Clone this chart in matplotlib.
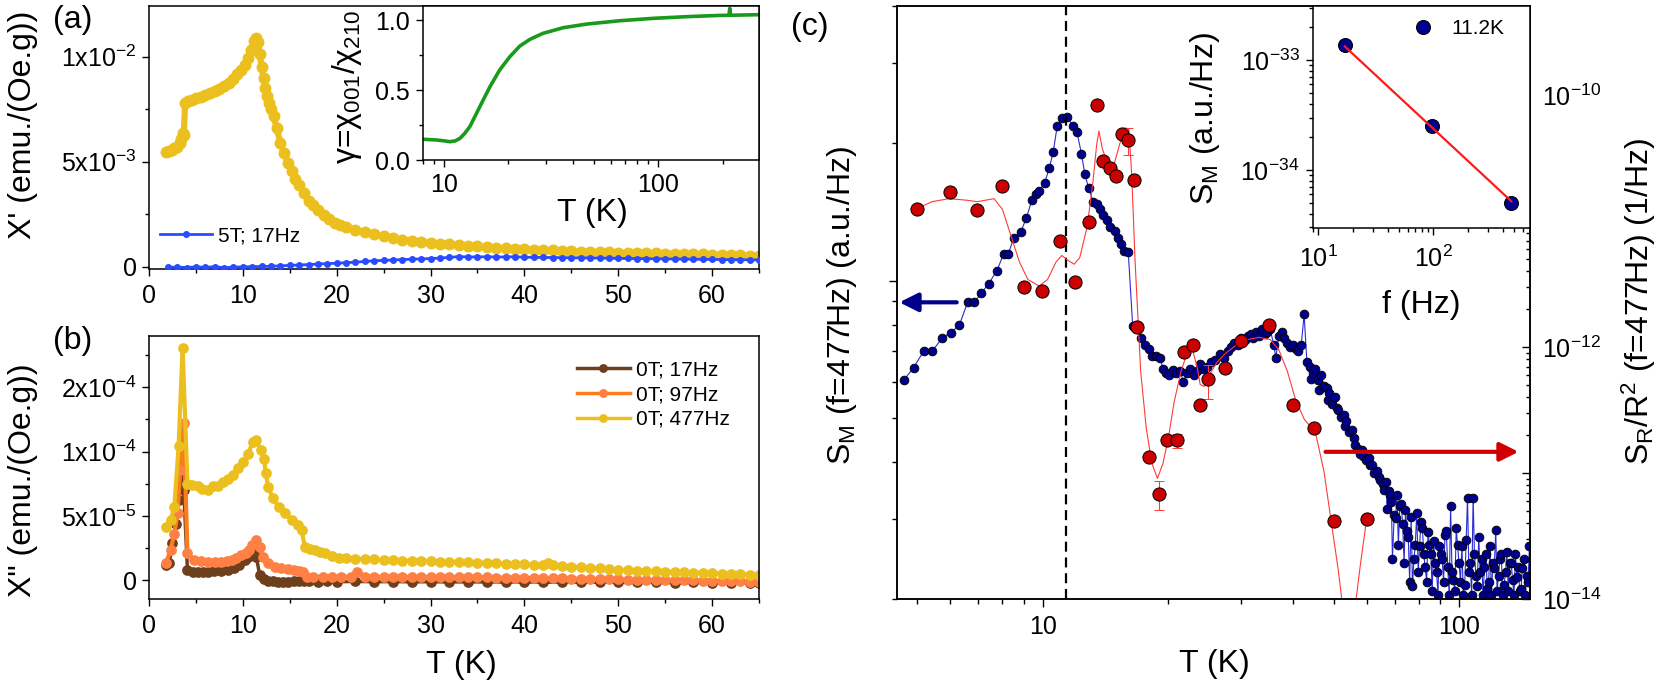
import numpy as np
import matplotlib
matplotlib.use("Agg")
import matplotlib.pyplot as plt
from matplotlib.ticker import (MultipleLocator, FixedLocator, FixedFormatter,
                               LogLocator, NullFormatter, FuncFormatter)

plt.rcParams['font.family'] = ['Liberation Sans', 'DejaVu Sans']
plt.rcParams['mathtext.fontset'] = 'custom'
plt.rcParams['mathtext.rm'] = 'Liberation Sans'
plt.rcParams['mathtext.it'] = 'Liberation Sans:italic'
plt.rcParams['mathtext.bf'] = 'Liberation Sans:bold'
plt.rcParams['axes.linewidth'] = 1.1

# ---------------- data: panel (a)  X' vs T ----------------
a_T_477 = [1.8, 2.1, 2.4, 2.7, 3.0, 3.3, 3.45, 3.6, 3.7, 3.85, 4.2, 4.6, 5.0, 5.5, 6.0,
           6.5, 7.0, 7.5, 8.0, 8.5, 9.0, 9.4, 9.8, 10.2, 10.6, 10.9, 11.2, 11.4, 11.6,
           11.8, 12.0, 12.2, 12.4, 12.6, 12.8, 13.0, 13.3, 13.6, 14.0, 14.4, 14.8, 15.2,
           15.6, 16.0, 16.5, 17.0, 17.5, 18.0, 18.6, 19.2, 19.8, 20.4, 21, 22, 23, 24,
           25, 26, 27, 28, 29, 30, 31, 32, 33, 34, 35, 36, 37, 38, 39, 40, 41, 42, 43,
           44, 45, 46, 47, 48, 49, 50, 51, 52, 53, 54, 55, 56, 57, 58, 59, 60, 61, 62,
           63, 64, 65]
a_chi_477 = [5.44e-3, 5.50e-3, 5.56e-3, 5.63e-3, 5.72e-3, 5.90e-3, 6.10e-3, 6.35e-3,
             6.25e-3, 7.80e-3, 7.88e-3, 7.95e-3, 8.02e-3, 8.08e-3, 8.15e-3, 8.25e-3,
             8.35e-3, 8.47e-3, 8.60e-3, 8.75e-3, 8.95e-3, 9.15e-3, 9.35e-3, 9.60e-3,
             9.95e-3, 1.03e-2, 1.075e-2, 1.089e-2, 1.07e-2, 1.01e-2, 9.5e-3, 9.0e-3,
             8.5e-3, 8.1e-3, 7.8e-3, 7.5e-3, 7.15e-3, 6.6e-3, 5.9e-3, 5.4e-3, 4.95e-3,
             4.55e-3, 4.2e-3, 3.9e-3, 3.5e-3, 3.15e-3, 2.95e-3, 2.7e-3, 2.45e-3, 2.27e-3,
             2.1e-3, 1.97e-3, 1.88e-3, 1.76e-3, 1.65e-3, 1.55e-3, 1.46e-3, 1.38e-3,
             1.30e-3, 1.24e-3, 1.19e-3, 1.15e-3, 1.11e-3, 1.07e-3, 1.03e-3, 1.0e-3,
             9.7e-4, 9.4e-4, 9.1e-4, 8.8e-4, 8.6e-4, 8.4e-4, 8.2e-4, 8.0e-4, 7.8e-4,
             7.6e-4, 7.5e-4, 7.3e-4, 7.2e-4, 7.0e-4, 6.9e-4, 6.8e-4, 6.7e-4, 6.6e-4,
             6.5e-4, 6.4e-4, 6.3e-4, 6.2e-4, 6.1e-4, 6.0e-4, 5.9e-4, 5.8e-4, 5.7e-4,
             5.6e-4, 5.5e-4, 5.4e-4, 5.3e-4]

a_T_5T = [2, 3, 4, 5, 6, 7, 8, 9, 10, 11, 12, 13, 14, 15, 16, 17, 18, 19, 20, 21, 22,
          23, 24, 25, 26, 27, 28, 29, 30, 31, 32, 33, 34, 35, 36, 37, 38, 39, 40, 41,
          42, 43, 44, 45, 46, 47, 48, 49, 50, 51, 52, 53, 54, 55, 56, 57, 58, 59, 60,
          61, 62, 63, 64, 65]
a_chi_5T = [-2e-5, -1e-5, -3e-5, 0, -2e-5, 1e-5, -4e-5, -1e-5, 0, 1e-5, 2e-5, 3e-5,
            5e-5, 7e-5, 9e-5, 1.1e-4, 1.35e-4, 1.55e-4, 1.75e-4, 2.0e-4, 2.25e-4,
            2.6e-4, 2.9e-4, 3.1e-4, 3.3e-4, 3.5e-4, 3.65e-4, 3.8e-4, 3.95e-4, 4.2e-4,
            4.5e-4, 4.9e-4, 4.7e-4, 4.75e-4, 4.8e-4, 4.7e-4, 4.75e-4, 4.8e-4, 4.6e-4,
            4.55e-4, 4.5e-4, 4.45e-4, 4.4e-4, 4.35e-4, 4.3e-4, 4.25e-4, 4.2e-4,
            4.15e-4, 4.05e-4, 4.0e-4, 3.95e-4, 3.9e-4, 3.85e-4, 3.8e-4, 3.75e-4,
            3.7e-4, 3.65e-4, 3.6e-4, 3.55e-4, 3.5e-4, 3.45e-4, 3.4e-4, 3.35e-4, 3.3e-4]

# inset (a): anisotropy ratio
gam_T = [8.0, 9.25, 10.0, 10.66, 11.3, 11.88, 12.5, 13.2, 14.7, 16.4, 18.2, 20.3, 22.6,
         25.2, 29.0, 36.0, 46.3, 66.3, 94.8, 135.7, 194, 214, 216, 218, 250, 296]
gam_val = [0.148, 0.143, 0.137, 0.131, 0.137, 0.155, 0.19, 0.238, 0.381, 0.524, 0.643,
           0.738, 0.814, 0.862, 0.905, 0.945, 0.971, 0.995, 1.012, 1.024, 1.033, 1.034,
           1.083, 1.034, 1.036, 1.038]

# ---------------- data: panel (b)  X'' vs T ----------------
b_T_17 = [1.8, 2.14, 2.5, 2.86, 3.15, 3.4, 3.7, 4.1, 4.7, 5.2, 5.8, 6.26, 6.9, 7.69, 8.4,
          9.11, 9.6, 10.18, 10.6, 11.08, 11.44, 11.79, 12.2, 12.69, 13.2, 13.76, 14.3,
          14.83, 15.5, 16.0, 16.5, 17, 18, 19, 20, 22, 24, 26, 28, 30, 32, 34, 36, 38,
          40, 42, 44, 46, 48, 50, 52, 54, 56, 58, 60, 62, 64, 65]
b_chi_17 = [1.2e-5, 1.3e-5, 2.85e-5, 4.4e-5, 6.2e-5, 8.55e-5, 7.0e-5, 7.8e-6, 6.5e-6,
            6.5e-6, 6.5e-6, 6.5e-6, 6.8e-6, 7.3e-6, 7.8e-6, 9.1e-6, 1.2e-5, 1.56e-5,
            1.8e-5, 2.07e-5, 1.81e-5, 3.9e-6, 1.0e-6, -5e-7, -1.0e-6, -1.3e-6, -1.3e-6,
            -1.3e-6, -1.0e-6, -5e-7, -1.0e-6, -1.0e-6, -1.2e-6, -1.0e-6, -1.3e-6,
            -1.1e-6, -1.3e-6, -1.2e-6, -1.4e-6, -1.3e-6, -1.5e-6, -1.4e-6, -1.5e-6,
            -1.6e-6, -1.5e-6, -1.7e-6, -1.6e-6, -1.8e-6, -1.7e-6, -1.8e-6, -1.9e-6,
            -1.8e-6, -2.0e-6, -1.9e-6, -2.0e-6, -2.1e-6, -2.0e-6, -2.1e-6]

b_T_97 = [1.8, 2.3, 2.7, 3.04, 3.33, 3.69, 4.1, 4.8, 5.5, 6.3, 7.0, 7.7, 8.3, 8.8, 9.3,
          9.8, 10.3, 10.7, 11.0, 11.36, 11.8, 12.15, 12.7, 13.4, 14.1, 14.8, 15.5, 16.0,
          16.44, 16.8, 17.5, 18.5, 19.5, 20.5, 21.5, 22.2, 23, 24, 25, 26, 27, 28, 29,
          30, 31, 32, 33, 34, 35, 36, 37, 38, 39, 40, 41, 42, 43, 44, 45, 46, 47, 48,
          49, 50, 51, 52, 53, 54, 55, 56, 57, 58, 59, 60, 61, 62, 63, 64, 65]
b_chi_97 = [1.3e-5, 2.33e-5, 3.6e-5, 5.2e-5, 8.55e-5, 1.22e-4, 2.07e-5, 1.56e-5, 1.45e-5,
            1.43e-5, 1.43e-5, 1.43e-5, 1.5e-5, 1.56e-5, 1.7e-5, 1.94e-5, 2.1e-5, 2.33e-5,
            2.7e-5, 3.1e-5, 2.6e-5, 1.8e-5, 1.3e-5, 1.05e-5, 9.1e-6, 8.5e-6, 7.8e-6,
            7.2e-6, 6.5e-6, 2.6e-6, 2.6e-6, 2.6e-6, 2.6e-6, 2.6e-6, 2.6e-6, 6.5e-6,
            2.6e-6, 2.5e-6, 2.5e-6, 2.5e-6, 2.4e-6, 2.4e-6, 2.3e-6, 2.3e-6, 2.2e-6,
            2.2e-6, 2.1e-6, 2.1e-6, 2.0e-6, 2.0e-6, 1.9e-6, 1.8e-6, 1.7e-6, 1.6e-6,
            1.5e-6, 1.4e-6, 1.3e-6, 1.2e-6, 1.1e-6, 1.0e-6, 9e-7, 8e-7, 6e-7, 5e-7,
            4e-7, 3e-7, 2e-7, 1e-7, 0.0, -1e-7, -2e-7, -3e-7, -4e-7, -5e-7, -7e-7,
            -9e-7, -1.0e-6, -1.2e-6, -1.3e-6]

b_T_477 = [1.8, 2.3, 2.7, 3.15, 3.58, 4.1, 4.6, 5.2, 5.7, 6.26, 6.8, 7.3, 7.9, 8.4, 8.9,
           9.5, 10.0, 10.55, 11.08, 11.44, 11.9, 12.26, 12.44, 12.7, 13.2, 13.8, 14.5,
           15.2, 15.9, 16.26, 16.6, 17.2, 17.7, 18.2, 18.8, 19.5, 20.2, 21, 22, 23, 24,
           25, 26, 27, 28, 29, 30, 31, 32, 33, 34, 35, 36, 37, 38, 39, 40, 41, 42, 42.5,
           43, 44, 45, 46, 47, 48, 49, 50, 51, 52, 53, 54, 55, 56, 57, 58, 59, 60, 61,
           62, 63, 64, 65]
b_chi_477 = [4.15e-5, 4.67e-5, 5.7e-5, 1.04e-4, 1.81e-4, 7.5e-5, 7.4e-5, 7.3e-5, 7.1e-5,
             7.0e-5, 7.3e-5, 7.3e-5, 7.6e-5, 7.9e-5, 8.2e-5, 8.7e-5, 9.2e-5, 9.85e-5,
             1.075e-4, 1.09e-4, 1.01e-4, 9.46e-5, 8.3e-5, 7.26e-5, 6.35e-5, 5.7e-5,
             5.19e-5, 4.67e-5, 4.28e-5, 3.89e-5, 2.59e-5, 2.45e-5, 2.33e-5, 2.2e-5,
             2.07e-5, 1.88e-5, 1.75e-5, 1.7e-5, 1.66e-5, 1.62e-5, 1.6e-5, 1.57e-5,
             1.55e-5, 1.52e-5, 1.5e-5, 1.47e-5, 1.45e-5, 1.43e-5, 1.42e-5, 1.4e-5,
             1.38e-5, 1.36e-5, 1.34e-5, 1.31e-5, 1.28e-5, 1.25e-5, 1.22e-5, 1.19e-5,
             1.17e-5, 1.3e-5, 1.15e-5, 1.1e-5, 1.05e-5, 1.0e-5, 9.5e-6, 9.0e-6, 8.5e-6,
             8.0e-6, 7.6e-6, 7.3e-6, 7.0e-6, 6.7e-6, 6.5e-6, 6.2e-6, 6.0e-6, 5.7e-6,
             5.5e-6, 5.2e-6, 5.0e-6, 4.7e-6, 4.5e-6, 4.2e-6, 4.0e-6]

# ---------------- data: panel (c)  noise vs T ----------------
# magnetic noise S_M (log10, arbitrary units, left axis)
sm_T = [4.64, 4.90, 5.18, 5.43, 5.74, 6.02, 6.31, 6.61, 6.86, 7.12, 7.42, 7.77, 8.06, 8.27,
        8.53, 8.86, 9.14, 9.43, 9.66, 9.81, 10.12, 10.38, 10.61, 10.84, 11.12, 11.47,
        11.83, 12.09, 12.40, 12.63, 12.91, 13.24, 13.49, 13.74, 13.96, 14.27, 14.53,
        14.90, 15.14, 15.42, 15.71, 16.06, 16.46, 16.83, 17.25, 17.58, 17.97, 18.30,
        18.71, 19.11, 19.48, 19.78, 20.09, 20.54, 20.92, 21.39, 21.79, 22.20, 22.61,
        23.04, 23.48, 23.92, 24.38, 24.84, 25.38, 25.94, 26.60, 27.27, 27.87, 28.31,
        28.84, 29.38, 29.94, 30.60, 31.08, 31.57, 32.06, 32.57, 33.08, 33.61, 34.14,
        34.67, 35.22, 35.88, 36.33, 36.90, 37.48, 38.07, 38.67, 39.26, 39.89, 40.52,
        41.15, 41.80, 42.46, 43.12, 43.80, 44.49, 45.18, 45.89, 46.62, 47.35, 48.09,
        48.85, 49.61, 50.40, 51.19, 51.99, 52.81, 53.64, 54.48, 55.34, 56.21, 57.08,
        57.98, 58.89, 59.81, 60.76, 61.71, 62.66, 63.65, 64.65, 65.66, 66.69, 67.74,
        68.79, 69.88, 70.98, 72.08, 73.21, 74.37, 75.52, 76.74, 77.95, 79.16, 80.41,
        81.66, 82.95, 84.26, 85.57, 86.93, 88.30, 89.67, 91.09, 92.52, 93.96, 95.44,
        96.94, 98.45, 100.0, 101.6, 103.2, 104.8, 106.4, 108.1, 109.8, 111.5, 113.3,
        115.1, 116.9, 118.7, 120.6, 122.5, 124.4, 126.3, 128.3, 130.3, 132.4, 134.5,
        136.6, 138.7, 140.9, 143.1, 145.4, 147.6]
sm_log = [-0.219, -0.191, -0.155, -0.155, -0.126, -0.114, -0.098, -0.047, -0.047, -0.028,
          -0.007, 0.022, 0.058, 0.058, 0.094, 0.106, 0.137, 0.177, 0.189, 0.196, 0.215,
          0.247, 0.283, 0.338, 0.357, 0.359, 0.338, 0.326, 0.278, 0.233, 0.202, 0.173,
          0.167, 0.156, 0.144, 0.132, 0.118, 0.108, 0.094, 0.081, 0.065, 0.062, -0.100,
          -0.100, -0.126, -0.141, -0.150, -0.165, -0.165, -0.169, -0.193, -0.203, -0.206,
          -0.196, -0.203, -0.198, -0.222, -0.203, -0.193, -0.208, -0.198, -0.184, -0.193,
          -0.189, -0.179, -0.174, -0.160, -0.169, -0.155, -0.145, -0.136, -0.141, -0.126,
          -0.131, -0.122, -0.117, -0.126, -0.112, -0.122, -0.107, -0.117, -0.112, -0.107,
          -0.141, -0.169, -0.122, -0.112, -0.126, -0.136, -0.145, -0.141, -0.150, -0.155,
          -0.141, -0.074, -0.179, -0.189, -0.203, -0.193, -0.217, -0.208, -0.232, -0.236,
          -0.246, -0.270, -0.256, -0.284, -0.299, -0.294, -0.308, -0.332, -0.327, -0.361,
          -0.370, -0.380, -0.385, -0.394, -0.389, -0.404, -0.423, -0.418, -0.437, -0.447,
          -0.442, -0.461, -0.485, -0.514, -0.471, -0.495, -0.533, -0.504, -0.562, -0.519,
          -0.610, -0.509, -0.581, -0.543, -0.629, -0.552, -0.600, -0.571, -0.638, -0.581,
          -0.610, -0.557, -0.629, -0.495, -0.657, -0.543, -0.619, -0.581, -0.667, -0.476,
          -0.619, -0.476, -0.648, -0.562, -0.610, -0.629, -0.677, -0.581, -0.619, -0.547,
          -0.648, -0.600, -0.667, -0.595, -0.619, -0.657, -0.600, -0.629, -0.677, -0.610,
          -0.648, -0.581]
# extra points of the scattered high-T tail
sm_tail_T = [44.1, 46.2, 48.4, 50.8, 53.2, 55.8, 58.4, 61.2, 64.1, 66.2, 67.2, 68.3, 69.2,
             70.4, 71.5, 72.6, 73.8, 75.0, 76.1, 77.3, 78.5, 79.8, 81.0, 82.3, 83.6, 84.9,
             86.2, 87.6, 89.0, 90.4, 91.8, 93.2, 94.7, 96.2, 97.7, 99.2, 100.8, 102.4,
             104.0, 105.6, 107.2, 108.9, 110.6, 112.4, 114.2, 116.0, 117.8, 119.6, 121.5,
             123.4, 125.3, 127.3, 129.3, 131.3, 133.4, 135.5, 137.6, 139.8, 142.0, 144.2,
             146.5]
sm_tail_log = [-0.215, -0.240, -0.262, -0.280, -0.318, -0.345, -0.372, -0.405, -0.430,
               -0.46, -0.50, -0.47, -0.61, -0.52, -0.58, -0.49, -0.62, -0.55, -0.66,
               -0.67, -0.58, -0.64, -0.53, -0.60, -0.66, -0.58, -0.68, -0.62, -0.69,
               -0.60, -0.66, -0.55, -0.69, -0.64, -0.68, -0.58, -0.66, -0.69, -0.57,
               -0.64, -0.69, -0.60, -0.67, -0.64, -0.69, -0.60, -0.66, -0.69, -0.63,
               -0.68, -0.61, -0.69, -0.64, -0.68, -0.62, -0.69, -0.65, -0.68, -0.63,
               -0.69, -0.66]

# resistance noise S_R/R^2 (right axis)
sr_T = [4.99, 6.0, 6.97, 8.01, 9.02, 9.97, 11.0, 11.98, 12.95, 13.5, 14.0, 14.5, 15.0, 15.5,
        16.05, 16.6, 16.9, 18.0, 19.0, 19.9, 21.0, 21.9, 23.0, 23.9, 25.0, 27.4, 29.9,
        35.0, 39.9, 44.9, 50.1, 60.0]
sr_val = [1.26e-11, 1.70e-11, 1.22e-11, 1.92e-11, 3.0e-12, 2.78e-12, 7.0e-12, 3.28e-12,
          9.95e-12, 8.4e-11, 3.0e-11, 2.64e-11, 2.30e-11, 4.9e-11, 4.4e-11, 2.13e-11,
          1.46e-12, 1.34e-13, 6.9e-14, 1.83e-13, 1.83e-13, 9.2e-13, 1.04e-12, 3.48e-13,
          5.6e-13, 6.8e-13, 1.13e-12, 1.51e-12, 3.46e-13, 2.29e-13, 4.17e-14, 4.35e-14]
sr_relerr = [0, 0, 0, 0, 0, 0, 0, 0, 0, 0, 0, 0, 0, 0, 0.24, 0, 0, 0, 0.26, 0, 0.13, 0, 0,
             0, 0.3, 0, 0, 0, 0, 0, 0, 0]
# smooth guide curve through S_R/R^2
sr_fit_T = [4.99, 5.43, 5.96, 6.55, 6.97, 7.65, 8.01, 8.40, 8.80, 9.22, 9.81, 10.28, 10.77,
            11.12, 11.47, 11.91, 12.28, 12.79, 13.2, 13.49, 13.66, 13.91, 14.27, 14.81,
            15.42, 15.76, 16.11, 16.37, 16.68, 17.2, 17.74, 18.3, 18.87, 19.46, 20.07,
            20.7, 21.5, 22.2, 22.9, 23.5, 23.9, 24.4, 25.1, 26.2, 27.4, 29.2, 31.1, 33.1,
            35.2, 36.9, 38.7, 40.5, 42.5, 45.2, 47.4, 49.6, 51.2, 52.3, 53.3, 54.5, 55.8,
            56.6, 58.0, 60.0]
sr_fit_val = [1.26e-11, 1.43e-11, 1.51e-11, 1.47e-11, 1.43e-11, 1.51e-11, 1.24e-11,
              7.65e-12, 4.74e-12, 3.45e-12, 3.06e-12, 3.45e-12, 4.74e-12, 5.35e-12,
              4.93e-12, 4.56e-12, 5.14e-12, 8.98e-12, 2.0e-11, 4.09e-11, 5.2e-11, 3.78e-11,
              2.97e-11, 2.74e-11, 4.43e-11, 5.5e-11, 5.41e-11, 2.34e-11, 4.74e-12,
              6.45e-13, 2.28e-13, 1.2e-13, 9.1e-14, 1.2e-13, 1.95e-13, 3.69e-13, 6.45e-13,
              8.87e-13, 9.6e-13, 6.98e-13, 5.07e-13, 4.88e-13, 5.96e-13, 7.57e-13,
              8.87e-13, 1.04e-12, 1.15e-12, 1.2e-12, 1.15e-12, 9.6e-13, 6.45e-13,
              3.84e-13, 2.68e-13, 2.11e-13, 1.03e-13, 3.64e-14, 1.78e-14, 1.0e-14, 5.4e-15,
              3.6e-15, 5.4e-15, 1.0e-14, 1.92e-14, 4.35e-14]

# inset (c): S_M vs f at 11.2 K
f_Hz = [17, 97, 477]
sm_f = [1.37e-33, 2.51e-34, 5.05e-35]
fit_f = [17, 477]
fit_sm = [1.33e-33, 5.2e-35]

T_dash = 11.4

YELLOW = '#ebc01e'
ORANGE = '#ff8044'
ORANGE_LINE = '#ff7a1a'
BROWN = '#6e3f1c'
BLUE_A = '#2a4bff'
GREEN = '#1a9a1a'
NAVY = '#00008c'
RED = '#cc0000'


def style(ax, labelsize=18):
    ax.tick_params(which='both', direction='out', width=1.0, labelsize=labelsize,
                   top=False, right=False)
    ax.tick_params(which='major', length=4.7)
    ax.tick_params(which='minor', length=2.9)
    ax.tick_params(axis='y', pad=4)
    ax.tick_params(axis='x', pad=6)


fig = plt.figure(figsize=(16.61, 6.85), dpi=100)

# ---------------- panel (a) ----------------
ax_a = fig.add_axes([0.0897, 0.6073, 0.3673, 0.3839])
ax_a.plot(a_T_477, a_chi_477, 'o-', color=YELLOW, mec=YELLOW, ms=7.6, lw=4.5, zorder=2)
ax_a.plot(a_T_5T, a_chi_5T, 'o-', color=BLUE_A, mec=BLUE_A, ms=4, lw=2, zorder=3,
          label='5T; 17Hz')
ax_a.set_xlim(0, 65)
ax_a.set_ylim(-1e-4, 0.0124)
ax_a.xaxis.set_major_locator(MultipleLocator(10))
ax_a.xaxis.set_minor_locator(MultipleLocator(5))
ax_a.yaxis.set_major_locator(FixedLocator([0, 5e-3, 1e-2]))
ax_a.yaxis.set_major_formatter(FixedFormatter(['0', '5x10$^{-3}$', '1x10$^{-2}$']))
ax_a.yaxis.set_minor_locator(MultipleLocator(2.5e-3))
style(ax_a)
ax_a.set_ylabel("X' (emu./(Oe.g))", fontsize=23)
ax_a.yaxis.set_label_coords(-0.182, 0.548)
ax_a.legend(loc='upper left', bbox_to_anchor=(0.018, 0.161), frameon=False, fontsize=15,
            handlelength=2.48, handletextpad=0.3, borderpad=0, borderaxespad=0)

# inset (a)
ax_ai = fig.add_axes([0.2548, 0.7664, 0.2022, 0.2248])
ax_ai.plot(gam_T, gam_val, color=GREEN, lw=2.6)
ax_ai.set_xscale('log')
ax_ai.set_xlim(8.0, 296)
ax_ai.set_ylim(0, 1.1)
ax_ai.xaxis.set_major_locator(FixedLocator([10, 100]))
ax_ai.xaxis.set_major_formatter(FixedFormatter(['10', '100']))
ax_ai.xaxis.set_minor_locator(LogLocator(base=10, subs=np.arange(2, 10)))
ax_ai.xaxis.set_minor_formatter(NullFormatter())
ax_ai.yaxis.set_major_locator(FixedLocator([0, 0.5, 1.0]))
ax_ai.yaxis.set_major_formatter(FixedFormatter(['0.0', '0.5', '1.0']))
ax_ai.yaxis.set_minor_locator(MultipleLocator(0.25))
style(ax_ai)
ax_ai.tick_params(axis='both', pad=5)
ax_ai.set_xlabel('T (K)', fontsize=23)
ax_ai.xaxis.set_label_coords(0.505, -0.247)
ax_ai.set_ylabel('γ=χ$_{001}$/χ$_{210}$', fontsize=23)
ax_ai.yaxis.set_label_coords(-0.177, 0.474)

# ---------------- panel (b) ----------------
ax_b = fig.add_axes([0.0897, 0.1251, 0.3673, 0.3844])
ax_b.plot(b_T_17, b_chi_17, 'o-', color=BROWN, mec=BROWN, ms=6.7, lw=2.5,
          label='0T; 17Hz')
ax_b.plot(b_T_97, b_chi_97, 'o-', color=ORANGE_LINE, mfc=ORANGE, mec=ORANGE, ms=6.7,
          lw=3, label='0T; 97Hz')
ax_b.plot(b_T_477, b_chi_477, 'o-', color=YELLOW, mec=YELLOW, ms=6.7, lw=3,
          label='0T; 477Hz')
ax_b.set_xlim(0, 65)
ax_b.set_ylim(-1.5e-5, 1.9e-4)
ax_b.xaxis.set_major_locator(MultipleLocator(10))
ax_b.xaxis.set_minor_locator(MultipleLocator(5))
ax_b.yaxis.set_major_locator(FixedLocator([0, 5e-5, 1e-4, 1.5e-4]))
ax_b.yaxis.set_major_formatter(FixedFormatter(['0', '5x10$^{-5}$', '1x10$^{-4}$',
                                               '2x10$^{-4}$']))
ax_b.yaxis.set_minor_locator(MultipleLocator(2.5e-5))
style(ax_b)
ax_b.set_xlabel('T (K)', fontsize=23)
ax_b.xaxis.set_label_coords(0.5126, -0.1926)
ax_b.set_ylabel('X" (emu./(Oe.g))', fontsize=23)
ax_b.yaxis.set_label_coords(-0.182, 0.453)
leg_b = ax_b.legend(loc='upper left', bbox_to_anchor=(0.7016, 0.908), frameon=False,
                    fontsize=15, handlelength=2.54, handletextpad=0.29, labelspacing=0.28,
                    borderpad=0, borderaxespad=0, markerscale=0.8)
for h in leg_b.get_lines():
    h.set_linewidth(2.5)

# ---------------- panel (c) ----------------
ax_c = fig.add_axes([0.5400, 0.1251, 0.3811, 0.8661])
sm_all_T = np.array(sm_T + sm_tail_T)
sm_all = 10.0 ** np.array(sm_log + sm_tail_log)
order = np.argsort(sm_all_T)
ax_c.plot(sm_all_T[order], sm_all[order], 'o-', color='#2b2bd6', lw=0.8, ms=6.3,
          mfc=NAVY, mec='black', mew=0.6)
ax_c.set_xscale('log')
ax_c.set_yscale('log')
ax_c.set_xlim(4.47, 148)
ax_c.set_ylim(0.2, 4.0)
ax_c.axvline(T_dash, color='black', lw=1.6, ls=(0, (4.5, 2.6)))
ax_c.xaxis.set_major_locator(FixedLocator([10, 100]))
ax_c.xaxis.set_major_formatter(FixedFormatter(['10', '100']))
ax_c.xaxis.set_minor_locator(LogLocator(base=10, subs=np.arange(2, 10)))
ax_c.xaxis.set_minor_formatter(NullFormatter())
ax_c.yaxis.set_major_locator(LogLocator(base=10))
ax_c.yaxis.set_minor_locator(LogLocator(base=10, subs=np.arange(2, 10)))
ax_c.yaxis.set_major_formatter(NullFormatter())
ax_c.yaxis.set_minor_formatter(NullFormatter())
style(ax_c)
ax_c.tick_params(which='major', length=5.5)
ax_c.tick_params(which='minor', length=3.3)
ax_c.set_xlabel('T (K)', fontsize=23)
ax_c.xaxis.set_label_coords(0.5008, -0.0836)
ax_c.set_ylabel('S$_\\mathrm{M}$ (f=477Hz) (a.u./Hz)', fontsize=23)
ax_c.yaxis.set_label_coords(-0.060, 0.496)
ax_c.annotate('', xy=(4.53, 0.896), xytext=(6.22, 0.896),
              arrowprops=dict(arrowstyle='-|>', color=NAVY, lw=3, mutation_scale=28,
                              shrinkA=0, shrinkB=0))

ax_c2 = ax_c.twinx()
ax_c2.set_yscale('log')
ax_c2.plot(sr_fit_T, sr_fit_val, '-', color='#ff3a3a', lw=0.8)
sr_arr = np.array(sr_val)
ax_c2.errorbar(sr_T, sr_arr, yerr=sr_arr * np.array(sr_relerr), fmt='o', ms=9.5,
               mfc=RED, mec='black', mew=0.7, ecolor='#ff3a3a', elinewidth=0.8,
               capsize=3.5, capthick=0.8)
ax_c2.set_ylim(1e-14, 5.1e-10)
ax_c2.yaxis.set_major_locator(LogLocator(base=10, numticks=10))
ax_c2.yaxis.set_minor_locator(LogLocator(base=10, subs=np.arange(2, 10), numticks=10))
ax_c2.yaxis.set_minor_formatter(NullFormatter())


def even_decade(v, pos):
    e = int(round(np.log10(v)))
    return '$10^{%d}$' % e if e % 2 == 0 else ''


ax_c2.yaxis.set_major_formatter(FuncFormatter(even_decade))
ax_c2.tick_params(axis='y', which='both', direction='in', width=1.0, labelsize=18,
                  pad=8.5)
ax_c2.tick_params(axis='y', which='major', length=5.8)
ax_c2.tick_params(axis='y', which='minor', length=3.2)
ax_c2.set_ylabel('S$_\\mathrm{R}$/R$^2$ (f=477Hz) (1/Hz)', fontsize=23)
ax_c2.yaxis.set_label_coords(1.142, 0.502)
ax_c2.annotate('', xy=(139, 1.48e-13), xytext=(47.8, 1.48e-13),
               arrowprops=dict(arrowstyle='-|>', color='#d00000', lw=3,
                               mutation_scale=28, shrinkA=0, shrinkB=0))

# inset (c)
ax_ci = fig.add_axes([0.7905, 0.6672, 0.1306, 0.324])
ax_ci.plot(f_Hz, sm_f, 'o', ms=10, mfc=NAVY, mec='black', mew=0.8, label='11.2K',
           zorder=2)
ax_ci.plot(fit_f, fit_sm, '-', color='#ff1a1a', lw=1.6, zorder=3)
ax_ci.set_xscale('log')
ax_ci.set_yscale('log')
ax_ci.set_xlim(9.0, 693)
ax_ci.set_ylim(2.97e-35, 3.1e-33)
ax_ci.xaxis.set_major_locator(FixedLocator([10, 100]))
ax_ci.xaxis.set_major_formatter(FixedFormatter(['$10^1$', '$10^2$']))
ax_ci.xaxis.set_minor_locator(LogLocator(base=10, subs=np.arange(2, 10)))
ax_ci.xaxis.set_minor_formatter(NullFormatter())
ax_ci.yaxis.set_major_locator(FixedLocator([1e-34, 1e-33]))
ax_ci.yaxis.set_major_formatter(FixedFormatter(['$10^{-34}$', '$10^{-33}$']))
ax_ci.yaxis.set_minor_locator(LogLocator(base=10, subs=np.arange(2, 10)))
ax_ci.yaxis.set_minor_formatter(NullFormatter())
style(ax_ci)
ax_ci.tick_params(axis='x', pad=8)
ax_ci.tick_params(axis='y', pad=5)
ax_ci.set_xlabel('f (Hz)', fontsize=23)
ax_ci.xaxis.set_label_coords(0.497, -0.279)
ax_ci.set_ylabel('S$_\\mathrm{M}$ (a.u./Hz)', fontsize=23)
ax_ci.yaxis.set_label_coords(-0.419, 0.495)
ax_ci.legend(loc='upper left', bbox_to_anchor=(0.4576, 0.942), frameon=False,
             fontsize=15, handlelength=1.0, handletextpad=0.9, borderpad=0,
             borderaxespad=0)

fig.text(73 / 1661, 1 - 20 / 685, '(a)', ha='center', va='center', fontsize=23)
fig.text(73 / 1661, 1 - 341 / 685, '(b)', ha='center', va='center', fontsize=23)
fig.text(810 / 1661, 1 - 27 / 685, '(c)', ha='center', va='center', fontsize=23)

fig.savefig('out.png', dpi=100)
